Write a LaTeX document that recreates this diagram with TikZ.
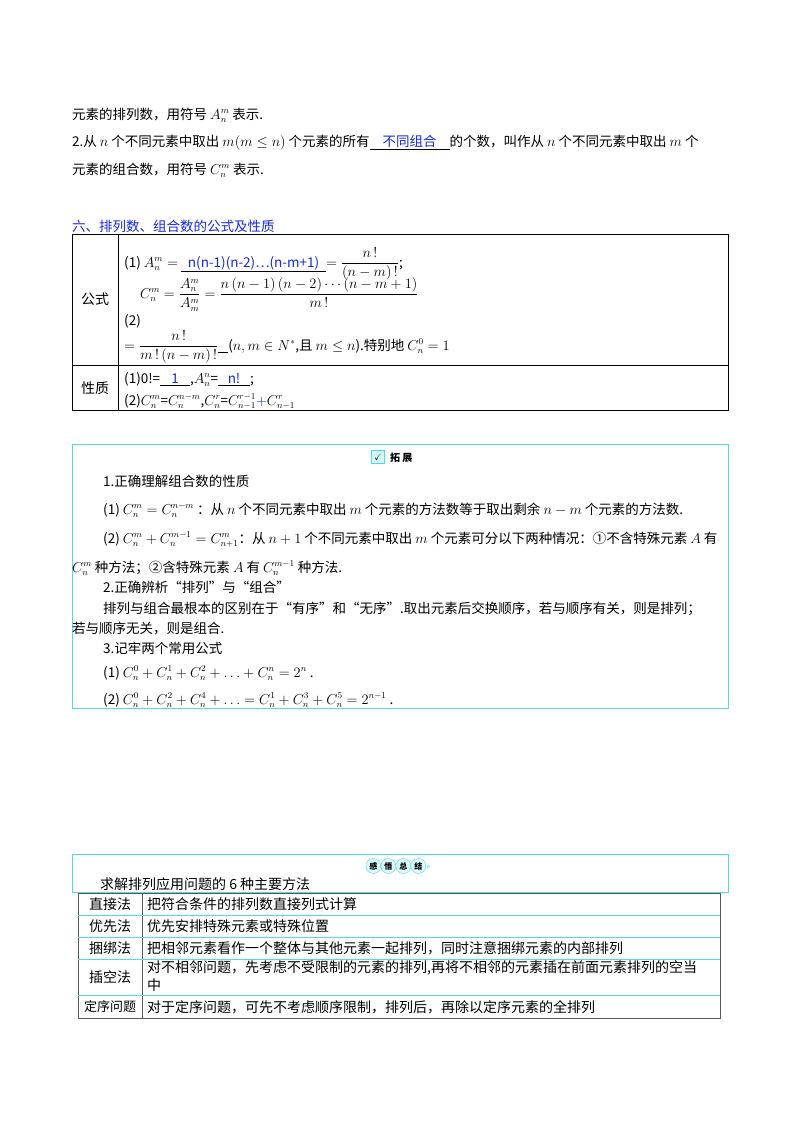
\documentclass[tikz,border=0pt]{standalone}
\usepackage{amsmath,amssymb}
\usepackage{fontspec}
\setmainfont{Noto Sans CJK SC}
\definecolor{cy}{RGB}{80,220,230}
\definecolor{bl}{RGB}{20,40,230}
\newcommand{\ul}[2]{\underline{\makebox[#1]{\color{bl}#2}}}
\begin{document}
\begin{tikzpicture}[x=1pt,y=-1pt,
  t/.style={anchor=base west,inner sep=0pt,font=\fontsize{13.5}{16}\selectfont},
  tb/.style={anchor=base west,inner sep=0pt,font=\fontsize{14}{16}\selectfont},
  cell/.style={anchor=center,inner sep=0pt,font=\fontsize{14}{16}\selectfont}]
\useasboundingbox (0,0) rectangle (800,1132);
\fill[white] (0,0) rectangle (800,1132);
% top text
\node[t] (l1) at (72,119) {元素的排列数，用符号 $A_n^m$ 表示.};
\node[t] (l2) at (72,146) {2.从 $n$ 个不同元素中取出 $m(m\le n)$ 个元素的所有\ul{80pt}{不同组合}的个数，叫作从 $n$ 个不同元素中取出 $m$ 个};
\node[t] (l3) at (72,174) {元素的组合数，用符号 $C_n^m$ 表示.};
\node[t,text=bl] (h) at (72,231) {六、排列数、组合数的公式及性质};
% table 1
\draw[thick] (72,234) rectangle (728,410);
\draw (118,234) -- (118,410);
\draw (72,365) -- (728,365);
\node[cell] (gs) at (95,299) {公式};
\node[cell] (xz) at (95,388) {性质};
\node[t] (f1) at (124,267) {(1) $A_n^m=$ \ul{145pt}{\itshape n(n-1)(n-2)…(n-m+1)}$=\dfrac{n\,!}{(n-m)\,!}$;};
\node[t] (f2) at (140,298) {$C_n^m=\dfrac{A_n^m}{A_m^m}=\dfrac{n\,(n-1)\,(n-2)\cdots(n-m+1)}{m\,!}$};
\node[t] (f2b) at (124,325) {(2)};
\node[t] (f3) at (124,350) {$=\dfrac{n\,!}{m\,!\,(n-m)\,!}$\underline{\hspace{10pt}}($n,m\in N^*$,且 $m\le n$).特别地 $C_n^0=1$};
\node[t] (p1) at (124,383) {(1)0!=\ul{30pt}{1},$A_n^n$=\ul{32pt}{\itshape n!};};
\node[t] (p2) at (124,405) {(2)$C_n^m$=$C_n^{n-m}$,$C_n^r$=$C_{n-1}^{r-1}$\textcolor{bl}{$+$}$C_{n-1}^r$};
% box 2
\draw[cy,thick] (72,444) rectangle (728,708);
\node[draw=cy,fill=cy!25,minimum size=13pt,inner sep=0pt,font=\small] (ic) at (378,457) {$\checkmark$};
\node[t,font=\fontsize{10}{11}\selectfont\bfseries] (tz) at (390,461) {拓 展};
\node[t] (b1) at (103,486) {1.正确理解组合数的性质};
\node[t] (b2) at (103,514) {(1) $C_n^m=C_n^{n-m}$ ：从 $n$ 个不同元素中取出 $m$ 个元素的方法数等于取出剩余 $n-m$ 个元素的方法数.};
\node[t] (b3) at (103,543) {(2) $C_n^m+C_n^{m-1}=C_{n+1}^m$：从 $n+1$ 个不同元素中取出 $m$ 个元素可分以下两种情况：①不含特殊元素 $A$ 有};
\node[t] (b4) at (72,572) {$C_n^m$ 种方法；②含特殊元素 $A$ 有 $C_n^{m-1}$ 种方法.};
\node[t] (b5) at (103,592) {2.正确辨析“排列”与“组合”};
\node[t] (b6) at (103,613) {排列与组合最根本的区别在于“有序”和“无序”.取出元素后交换顺序，若与顺序有关，则是排列；};
\node[t] (b7) at (72,633) {若与顺序无关，则是组合.};
\node[t] (b8) at (103,653) {3.记牢两个常用公式};
\node[t] (b9) at (103,677) {(1) $C_n^0+C_n^1+C_n^2+\ldots+C_n^n=2^n$ .};
\node[t] (b10) at (103,704) {(2) $C_n^0+C_n^2+C_n^4+\ldots=C_n^1+C_n^3+C_n^5=2^{n-1}$ .};
% box 3
\draw[cy,thick] (72,854) rectangle (728,892);
\node[inner sep=0pt] (gw) at (398,866) {\tikz[baseline=-3pt]{\foreach \c [count=\i] in {感,悟,总,结}{\draw[cy,fill=cy!20] (\i*15,0) circle (7.5pt);\node[font=\fontsize{8}{9}\selectfont\bfseries] at (\i*15,0) {\c};}}\textcolor{cy}{\fontsize{9}{10}\selectfont >>}};
\node[tb] (t3) at (100,889) {求解排列应用问题的 6 种主要方法};
\draw[gray!70!black,thick] (78,893) rectangle (720,1018);
\draw[gray!70!black] (142,893) -- (142,1018);
\foreach \y in {915,937,959,995}{\draw[cy,thick] (78,\y) -- (720,\y);}
\node[cell] (k1) at (110,904) {直接法};
\node[cell] (k2) at (110,926) {优先法};
\node[cell] (k3) at (110,948) {捆绑法};
\node[cell] (k4) at (110,977) {插空法};
\node[cell,font=\fontsize{13}{15}\selectfont] (k5) at (110,1007) {定序问题};
\node[tb] (v1) at (147,909) {把符合条件的排列数直接列式计算};
\node[tb] (v2) at (147,931) {优先安排特殊元素或特殊位置};
\node[tb] (v3) at (147,953) {把相邻元素看作一个整体与其他元素一起排列，同时注意捆绑元素的内部排列};
\node[tb] (v4) at (147,972) {对不相邻问题，先考虑不受限制的元素的排列,再将不相邻的元素插在前面元素排列的空当};
\node[tb] (v4b) at (147,990) {中};
\node[tb] (v5) at (147,1012) {对于定序问题，可先不考虑顺序限制，排列后，再除以定序元素的全排列};
\end{tikzpicture}
\end{document}
